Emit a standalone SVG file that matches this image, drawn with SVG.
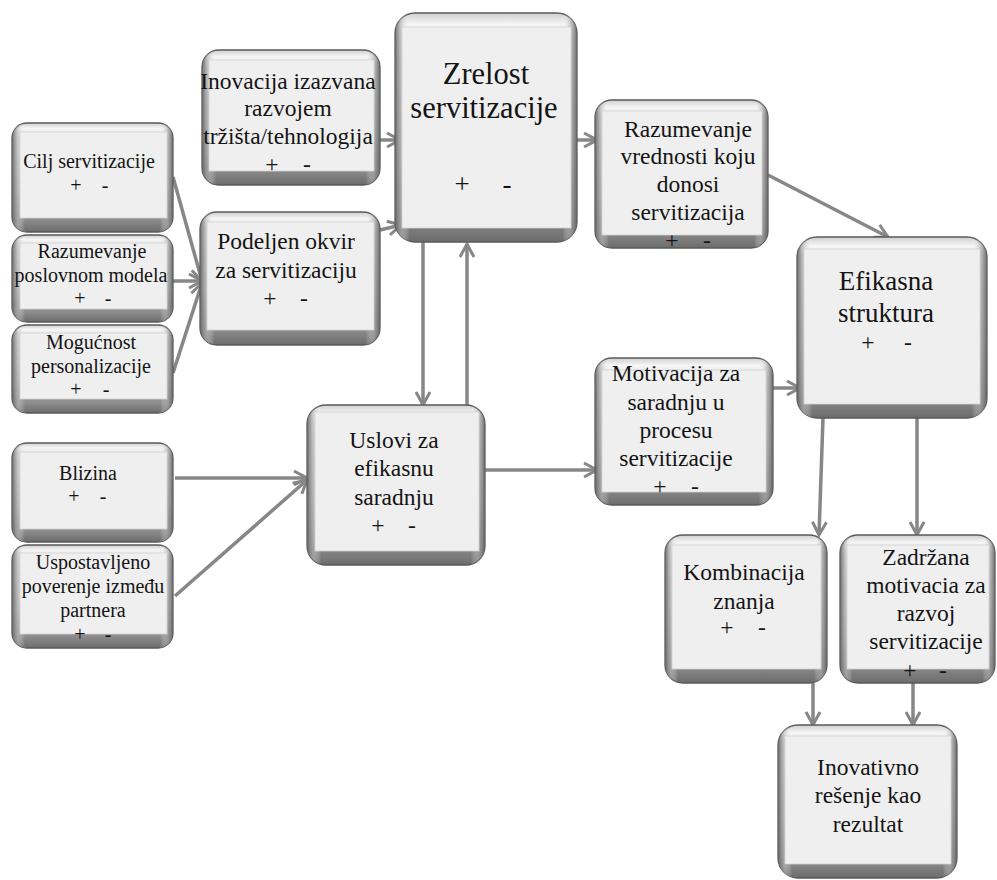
<svg xmlns="http://www.w3.org/2000/svg" width="997" height="880" viewBox="0 0 997 880">
  <defs>
    <!-- bevelled frame: light top edge, dark bottom edge -->
    <linearGradient id="bevelV" x1="0" y1="0" x2="0" y2="1">
      <stop offset="0" stop-color="#cfcfcf"/>
      <stop offset="0.05" stop-color="#f6f6f6"/>
      <stop offset="0.12" stop-color="#e2e2e2"/>
      <stop offset="0.6" stop-color="#b8b8b8"/>
      <stop offset="0.88" stop-color="#8e8e8e"/>
      <stop offset="1" stop-color="#6c6c6c"/>
    </linearGradient>
    <linearGradient id="bevelH" x1="0" y1="0" x2="1" y2="0">
      <stop offset="0" stop-color="#5e5e5e" stop-opacity="0.9"/>
      <stop offset="0.035" stop-color="#b4b4b4" stop-opacity="0.6"/>
      <stop offset="0.08" stop-color="#ffffff" stop-opacity="0"/>
      <stop offset="0.92" stop-color="#ffffff" stop-opacity="0"/>
      <stop offset="0.965" stop-color="#a8a8a8" stop-opacity="0.6"/>
      <stop offset="1" stop-color="#5e5e5e" stop-opacity="0.9"/>
    </linearGradient>
    <marker id="arrow" viewBox="-16 -10 18 20" refX="0" refY="0" markerWidth="18" markerHeight="20" markerUnits="userSpaceOnUse" orient="auto">
      <path d="M-13,-7 L0,0 L-13,7" fill="none" stroke="#878787" stroke-width="3"/>
    </marker>
  </defs>
  <style>
    .frame { fill: url(#bevelV); stroke: #5a5a5a; stroke-width: 1.3; }
    .shade { fill: url(#bevelH); stroke: none; }
    .face { fill: #efefef; stroke: #d2d2d2; stroke-width: 0.8; }
    text { fill: #141414; text-anchor: middle; }
    .sm { font-size: 20px; }
    .md { font-size: 23.5px; }
    .lg { font-size: 27px; }
    .xl { font-size: 30.5px; }
    .link { fill: none; stroke: #878787; stroke-width: 3.5; marker-end: url(#arrow); }
  </style>

  <rect width="997" height="880" fill="#ffffff"/>

  <!-- connectors -->
  <g id="connectors">
    <path class="link" d="M173,177 L202,281"/>
    <path class="link" d="M173,281 L202,281"/>
    <path class="link" d="M173,373 L202,283"/>
    <path class="link" d="M380,140 L400,140"/>
    <path class="link" d="M380,230 L401,225"/>
    <path class="link" d="M577,140 L597,140"/>
    <path class="link" d="M423,242 L423,405"/>
    <path class="link" d="M467,405 L467,244"/>
    <path class="link" d="M768,175 L888,237"/>
    <path class="link" d="M773,388 L800,388"/>
    <path class="link" d="M485,470 L597,470"/>
    <path class="link" d="M175,478 L307,478"/>
    <path class="link" d="M175,596 L307,480"/>
    <path class="link" d="M823,418 L819,535"/>
    <path class="link" d="M917,418 L917,535"/>
    <path class="link" d="M813,683 L813,725"/>
    <path class="link" d="M913,683 L913,725"/>
  </g>

  <g id="nodes" font-family="'Liberation Serif', 'Times New Roman', serif">

  <g id="cilj">
    <rect class="frame" x="12" y="123" width="161" height="109" rx="15"/>
    <rect class="shade" x="12" y="123" width="161" height="109" rx="15"/>
    <rect class="face" x="20" y="132" width="147" height="86"/>
    <text class="sm" x="89" y="168">Cilj servitizacije</text>
    <text class="sm" y="192"><tspan x="76">+</tspan><tspan x="105">-</tspan></text>
  </g>

  <g id="poslovni-model">
    <rect class="frame" x="12" y="235" width="161" height="87" rx="15"/>
    <rect class="shade" x="12" y="235" width="161" height="87" rx="15"/>
    <rect class="face" x="20" y="243" width="147" height="66"/>
    <text class="sm" x="92" y="258">Razumevanje</text>
    <text class="sm" x="91" y="282">poslovnom modela</text>
    <text class="sm" y="305"><tspan x="80">+</tspan><tspan x="108">-</tspan></text>
  </g>

  <g id="personalizacija">
    <rect class="frame" x="12" y="325" width="161" height="88" rx="15"/>
    <rect class="shade" x="12" y="325" width="161" height="88" rx="15"/>
    <rect class="face" x="20" y="333" width="147" height="66"/>
    <text class="sm" x="91" y="349">Mogućnost</text>
    <text class="sm" x="91" y="373">personalizacije</text>
    <text class="sm" y="396"><tspan x="76">+</tspan><tspan x="106">-</tspan></text>
  </g>

  <g id="podeljen-okvir">
    <rect class="frame" x="200" y="212" width="180" height="133" rx="17"/>
    <rect class="shade" x="200" y="212" width="180" height="133" rx="17"/>
    <rect class="face" x="207" y="222" width="167" height="108"/>
    <text class="md" x="286" y="249">Podeljen okvir</text>
    <text class="md" x="286" y="278">za servitizaciju</text>
    <text class="md" y="306"><tspan x="270">+</tspan><tspan x="304">-</tspan></text>
  </g>

  <g id="inovacija">
    <rect class="frame" x="202" y="50" width="178" height="135" rx="17"/>
    <rect class="shade" x="202" y="50" width="178" height="135" rx="17"/>
    <rect class="face" x="209" y="60" width="165" height="111"/>
    <text class="md" x="288" y="89">Inovacija izazvana</text>
    <text class="md" x="288" y="116">razvojem</text>
    <text class="md" x="288" y="144">tržišta/tehnologija</text>
    <text class="md" y="172"><tspan x="272">+</tspan><tspan x="307">-</tspan></text>
  </g>

  <g id="zrelost">
    <rect class="frame" x="395" y="13" width="182" height="229" rx="20"/>
    <rect class="shade" x="395" y="13" width="182" height="229" rx="20"/>
    <rect class="face" x="402" y="27" width="169" height="201"/>
    <text class="xl" x="486" y="84">Zrelost</text>
    <text class="xl" x="484" y="118">servitizacije</text>
    <text class="lg" y="193"><tspan x="462">+</tspan><tspan x="507">-</tspan></text>
  </g>

  <g id="razumevanje-vrednosti">
    <rect class="frame" x="595" y="100" width="173" height="148" rx="17"/>
    <rect class="shade" x="595" y="100" width="173" height="148" rx="17"/>
    <rect class="face" x="602" y="111" width="160" height="124"/>
    <text class="md" x="688" y="137">Razumevanje</text>
    <text class="md" x="688" y="164">vrednosti koju</text>
    <text class="md" x="688" y="192">donosi</text>
    <text class="md" x="688" y="220">servitizacija</text>
    <text class="md" y="248"><tspan x="672">+</tspan><tspan x="707">-</tspan></text>
  </g>

  <g id="efikasna-struktura">
    <rect class="frame" x="797" y="237" width="190" height="181" rx="20"/>
    <rect class="shade" x="797" y="237" width="190" height="181" rx="20"/>
    <rect class="face" x="804" y="249" width="176" height="155"/>
    <text class="lg" x="886" y="290">Efikasna</text>
    <text class="lg" x="886" y="322">struktura</text>
    <text class="md" y="350"><tspan x="868">+</tspan><tspan x="908">-</tspan></text>
  </g>

  <g id="motivacija">
    <rect class="frame" x="595" y="358" width="178" height="147" rx="17"/>
    <rect class="shade" x="595" y="358" width="178" height="147" rx="17"/>
    <rect class="face" x="602" y="370" width="164" height="122"/>
    <text class="md" x="676" y="381">Motivacija za</text>
    <text class="md" x="676" y="410">saradnju u</text>
    <text class="md" x="676" y="438">procesu</text>
    <text class="md" x="676" y="466">servitizacije</text>
    <text class="md" y="494"><tspan x="660">+</tspan><tspan x="695">-</tspan></text>
  </g>

  <g id="uslovi">
    <rect class="frame" x="307" y="405" width="178" height="160" rx="19"/>
    <rect class="shade" x="307" y="405" width="178" height="160" rx="19"/>
    <rect class="face" x="315" y="412" width="164" height="139"/>
    <text class="md" x="394" y="448">Uslovi za</text>
    <text class="md" x="394" y="476">efikasnu</text>
    <text class="md" x="394" y="505">saradnju</text>
    <text class="md" y="533"><tspan x="378">+</tspan><tspan x="412">-</tspan></text>
  </g>

  <g id="blizina">
    <rect class="frame" x="12" y="443" width="161" height="99" rx="15"/>
    <rect class="shade" x="12" y="443" width="161" height="99" rx="15"/>
    <rect class="face" x="20" y="452" width="147" height="77"/>
    <text class="sm" x="88" y="480">Blizina</text>
    <text class="sm" y="503"><tspan x="74">+</tspan><tspan x="103">-</tspan></text>
  </g>

  <g id="poverenje">
    <rect class="frame" x="12" y="545" width="161" height="103" rx="15"/>
    <rect class="shade" x="12" y="545" width="161" height="103" rx="15"/>
    <rect class="face" x="20" y="553" width="147" height="81"/>
    <text class="sm" x="93" y="569">Uspostavljeno</text>
    <text class="sm" x="93" y="593">poverenje između</text>
    <text class="sm" x="93" y="617">partnera</text>
    <text class="sm" y="641"><tspan x="80">+</tspan><tspan x="108">-</tspan></text>
  </g>

  <g id="kombinacija">
    <rect class="frame" x="665" y="535" width="162" height="148" rx="18"/>
    <rect class="shade" x="665" y="535" width="162" height="148" rx="18"/>
    <rect class="face" x="672" y="545" width="149" height="124"/>
    <text class="md" x="744" y="580">Kombinacija</text>
    <text class="md" x="744" y="609">znanja</text>
    <text class="md" y="635"><tspan x="727">+</tspan><tspan x="762">-</tspan></text>
  </g>

  <g id="zadrzana-motivacija">
    <rect class="frame" x="840" y="535" width="155" height="148" rx="18"/>
    <rect class="shade" x="840" y="535" width="155" height="148" rx="18"/>
    <rect class="face" x="847" y="545" width="142" height="124"/>
    <text class="md" x="926" y="565">Zadržana</text>
    <text class="md" x="926" y="593">motivacia za</text>
    <text class="md" x="926" y="621">razvoj</text>
    <text class="md" x="926" y="649">servitizacije</text>
    <text class="md" y="678"><tspan x="910">+</tspan><tspan x="943">-</tspan></text>
  </g>

  <g id="inovativno-resenje">
    <rect class="frame" x="778" y="725" width="179" height="153" rx="20"/>
    <rect class="shade" x="778" y="725" width="179" height="153" rx="20"/>
    <rect class="face" x="785" y="736" width="166" height="128"/>
    <text class="md" x="868" y="775">Inovativno</text>
    <text class="md" x="868" y="803">rešenje kao</text>
    <text class="md" x="868" y="832">rezultat</text>
  </g>

  </g>
</svg>
